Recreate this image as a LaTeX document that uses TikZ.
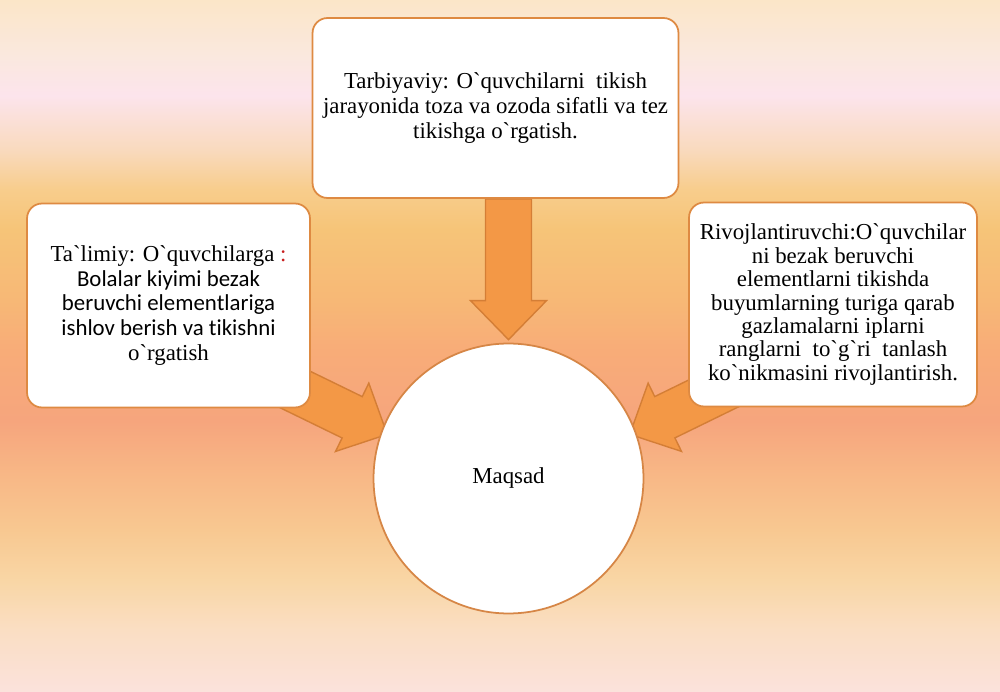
\documentclass[tikz,border=0pt]{standalone}
\usepackage{fontspec}
\setmainfont{Liberation Serif}[Ligatures=TeXOff]
\newfontfamily\lato{Carlito}[Ligatures={TeXOff,NoCommon}]
\usetikzlibrary{calc}

\definecolor{boxline}{RGB}{222,138,66}
\definecolor{circleline}{RGB}{214,134,70}
\definecolor{arrowfill}{RGB}{243,152,70}
\definecolor{arrowline}{RGB}{212,126,54}
\definecolor{colonred}{RGB}{200,30,30}
\definecolor{bg0}{RGB}{251,226,220}
\definecolor{bg1}{RGB}{250,222,195}
\definecolor{bg2}{RGB}{249,214,165}
\definecolor{bg3}{RGB}{248,200,145}
\definecolor{bg4}{RGB}{248,185,135}
\definecolor{bg5}{RGB}{246,165,125}
\definecolor{bg6}{RGB}{248,172,120}
\definecolor{bg7}{RGB}{247,184,118}
\definecolor{bg8}{RGB}{246,196,120}
\definecolor{bg9}{RGB}{248,205,140}
\definecolor{bg10}{RGB}{249,218,190}
\definecolor{bg11}{RGB}{252,228,236}
\definecolor{bg12}{RGB}{250,232,222}
\definecolor{bg13}{RGB}{251,230,200}
\pgfdeclareverticalshading{slidebg}{100bp}{color(0bp)=(bg0); color(25bp)=(bg0);
  color(29.5bp)=(bg1); color(33.1bp)=(bg2); color(36.7bp)=(bg3); color(40.3bp)=(bg4);
  color(44.6bp)=(bg5); color(49.7bp)=(bg6); color(53.3bp)=(bg7); color(58.4bp)=(bg8);
  color(61.3bp)=(bg9); color(64.2bp)=(bg10); color(68.1bp)=(bg11); color(71bp)=(bg12);
  color(75bp)=(bg13); color(100bp)=(bg13)}

\pgfdeclarelayer{slide}
\pgfdeclarelayer{arrows}
\pgfsetlayers{slide,arrows,main}

\begin{document}
\begin{tikzpicture}[x=0.02cm,y=-0.02cm,
  goalbox/.style={draw=boxline,line width=1pt,fill=white,rounded corners=0.3cm,
    align=center,inner sep=2pt,font=\fontsize{13}{14}\selectfont},
  fatarrow/.style={draw=arrowline,line width=0.8pt,fill=arrowfill,line join=miter}]
\useasboundingbox (0,0) rectangle (1000,692);
\begin{pgfonlayer}{slide}
\shade[shading=slidebg] (0,0) rectangle (1000,692);
\end{pgfonlayer}
%top
\node[goalbox,minimum width=7.32cm,minimum height=3.6cm] (tarb) at (495.5,108)
  {Tarbiyaviy: O`quvchilarni~ tikish\\ jarayonida toza va ozoda sifatli va tez\\ tikishga o`rgatish.};
%left
\node[goalbox,minimum width=5.66cm,minimum height=4.08cm] (talim) at (168.5,305.5)
  {Ta`limiy: O`quvchilarga \textcolor{colonred}{:}\\ {\lato Bolalar kiyimi bezak}\\
   {\lato beruvchi elementlariga}\\ {\lato ishlov berish va tikishni}\\ o`rgatish};
%right
\node[goalbox,minimum width=5.76cm,minimum height=4.08cm,font=\fontsize{13}{13.3}\selectfont] (rivoj) at (833,304.5)
  {Rivojlantiruvchi:O`quvchilar\\ ni bezak beruvchi\\ elementlarni tikishda\\ buyumlarning turiga qarab\\
   gazlamalarni iplarni\\ ranglarni~ to`g`ri~ tanlash\\ ko`nikmasini rivojlantirish.};
%centre
\node[draw=circleline,line width=1pt,fill=white,circle,minimum size=5.4cm,
  font=\fontsize{13}{14}\selectfont] (goal) at (508.5,478.5) {Maqsad};

%%%%%%% arrows
\coordinate (tarbout) at (tarb.south -| goal.center);
\coordinate (tarbin) at ($(goal.north)+(0,-3)$);
\coordinate (tarbhead) at ($(tarbin)!0.78cm!(tarbout)$);

\coordinate (talimout) at ($(talim.center)+(22,33)$);
\coordinate (talimin) at ($(goal.center)!0.95!(goal.160)$);
\coordinate (talimhead) at ($(talimin)!0.78cm!(talimout)$);

\coordinate (rivojout) at ($(rivoj.center)+(-7,34)$);
\coordinate (rivojin) at ($(goal.center)!0.95!(goal.20)$);
\coordinate (rivojhead) at ($(rivojin)!0.78cm!(rivojout)$);

\begin{pgfonlayer}{arrows}
\draw[fatarrow] ($(tarbout)!0.46cm!90:(tarbin)$) -- ($(tarbhead)!0.46cm!90:(tarbin)$)
  -- ($(tarbhead)!0.76cm!90:(tarbin)$) -- (tarbin) -- ($(tarbhead)!0.76cm!-90:(tarbin)$)
  -- ($(tarbhead)!0.46cm!-90:(tarbin)$) -- ($(tarbout)!0.46cm!-90:(tarbin)$) -- cycle;

\draw[fatarrow] ($(talimout)!0.46cm!90:(talimin)$) -- ($(talimhead)!0.46cm!90:(talimin)$)
  -- ($(talimhead)!0.76cm!90:(talimin)$) -- (talimin) -- ($(talimhead)!0.76cm!-90:(talimin)$)
  -- ($(talimhead)!0.46cm!-90:(talimin)$) -- ($(talimout)!0.46cm!-90:(talimin)$) -- cycle;

\draw[fatarrow] ($(rivojout)!0.46cm!90:(rivojin)$) -- ($(rivojhead)!0.46cm!90:(rivojin)$)
  -- ($(rivojhead)!0.76cm!90:(rivojin)$) -- (rivojin) -- ($(rivojhead)!0.76cm!-90:(rivojin)$)
  -- ($(rivojhead)!0.46cm!-90:(rivojin)$) -- ($(rivojout)!0.46cm!-90:(rivojin)$) -- cycle;
\end{pgfonlayer}
\end{tikzpicture}
\end{document}
